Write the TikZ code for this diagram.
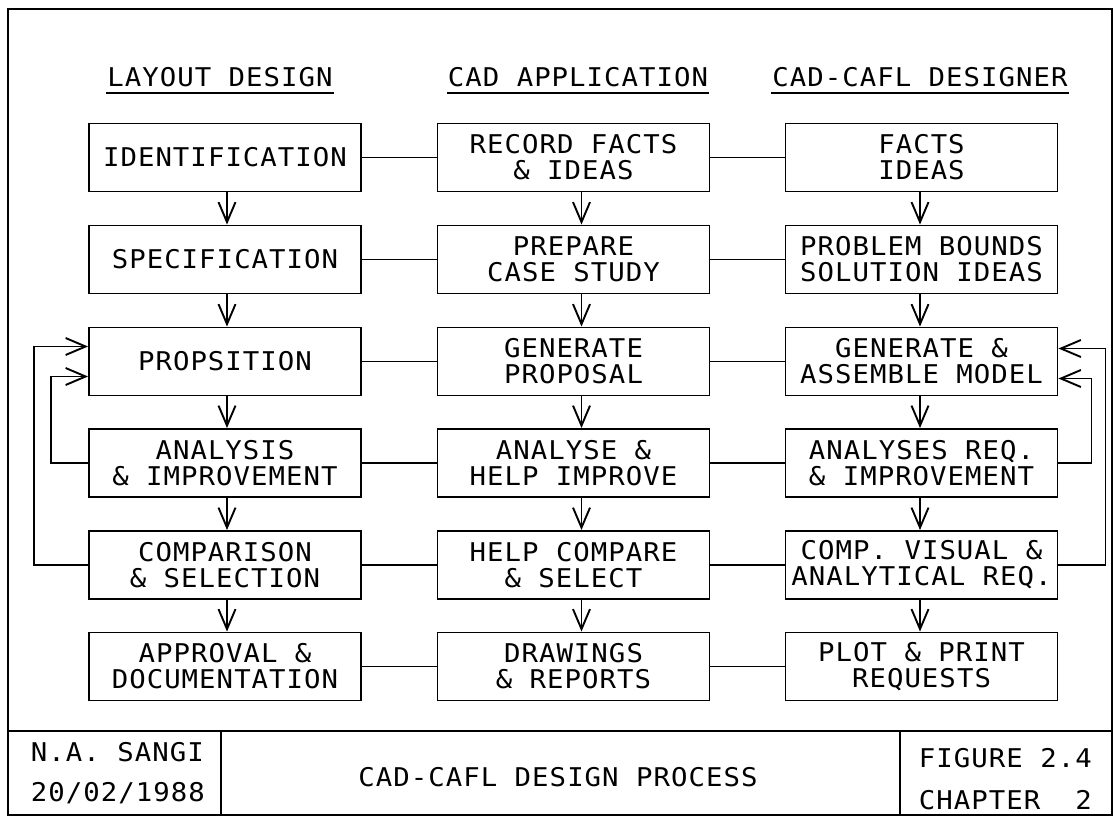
\documentclass[tikz,border=0pt]{standalone}
\usepackage{fontspec}
\usetikzlibrary{arrows.meta,calc}
\newfontfamily\cadfont[FakeStretch=1.06,LetterSpace=4]{DejaVu Sans Mono}
\newcommand\cadtext{\cadfont\fontsize{25.8pt}{26pt}\selectfont}
\begin{document}
\begin{tikzpicture}[x=1pt,y=-1pt,line width=1.9pt,
  box/.style={draw,minimum width=272pt,minimum height=68pt,inner sep=0pt,align=center,font=\cadtext},
  lbl/.style={inner sep=0pt,font=\cadtext},
  flow/.style={-{Straight Barb[length=20pt,width=17pt]}}]
\useasboundingbox (0,0) rectangle (1113,816);
\draw (8,9) rectangle (1112,815);
% headers
\node[lbl] (h1) at (220,77) {LAYOUT DESIGN};
\node[lbl] (h2) at (578,77) {CAD APPLICATION};
\node[lbl] (h3) at (920,77) {CAD-CAFL DESIGNER};
\foreach \h in {h1,h2,h3}
  \draw ($(\h.base west)+(0,7)$) -- ($(\h.base east)+(0,7)$);
% left column
\node[box] (l1) at (225,157.5) {IDENTIFICATION};
\node[box] (l2) at (225,259.5) {SPECIFICATION};
\node[box] (l3) at (225,361.5) {PROPSITION};
\node[box] (l4) at (225,463) {ANALYSIS\\\& IMPROVEMENT};
\node[box] (l5) at (225,565) {COMPARISON\\\& SELECTION};
\node[box] (l6) at (225,666.5) {APPROVAL \&\\DOCUMENTATION};
% middle column
\node[box] (m1) at (573.5,157.5) {RECORD FACTS\\\& IDEAS};
\node[box] (m2) at (573.5,259.5) {PREPARE\\CASE STUDY};
\node[box] (m3) at (573.5,361.5) {GENERATE\\PROPOSAL};
\node[box] (m4) at (573.5,463) {ANALYSE \&\\HELP IMPROVE};
\node[box] (m5) at (573.5,565) {HELP COMPARE\\\& SELECT};
\node[box] (m6) at (573.5,666.5) {DRAWINGS\\\& REPORTS};
% right column
\node[box] (r1) at (921.5,157.5) {FACTS\\IDEAS};
\node[box] (r2) at (921.5,259.5) {PROBLEM BOUNDS\\SOLUTION IDEAS};
\node[box] (r3) at (921.5,361.5) {GENERATE \&\\ASSEMBLE MODEL};
\node[box] (r4) at (921.5,463) {ANALYSES REQ.\\\& IMPROVEMENT};
\node[box] (r5) at (921.5,565) {COMP. VISUAL \&\\ANALYTICAL REQ.};
\node[box] (r6) at (921.5,666.5) {PLOT \& PRINT\\REQUESTS};
% horizontal links
\foreach \i in {1,...,6} {
  \draw (l\i) -- (m\i);
  \draw (m\i) -- (r\i);
}
% vertical flow arrows
\foreach \i/\j in {1/2,2/3,3/4,4/5,5/6} {
  \draw[flow] ([xshift=2pt]l\i.south) -- ([xshift=2pt]l\j.north);
  \draw[flow] ([xshift=8pt]m\i.south) -- ([xshift=8pt]m\j.north);
  \draw[flow] ([xshift=-1.5pt]r\i.south) -- ([xshift=-1.5pt]r\j.north);
}
% feedback loops left
\draw[flow] (l5.west) -- ++(-54,0) |- ([yshift=15pt]l3.west);
\draw[flow] (l4.west) -- ++(-37,0) |- ([yshift=-15pt]l3.west);
% feedback loops right
\draw[flow] (r5.east) -- ++(47,0) |- ([yshift=13pt]r3.east);
\draw[flow] (r4.east) -- ++(33,0) |- ([yshift=-17pt]r3.east);
% title block
\draw (8,731) -- (1112,731);
\draw (221,731) -- (221,815);
\draw (900,731) -- (900,815);
\node[lbl,anchor=west] (t1) at (30,752) {N.A. SANGI};
\node[lbl,anchor=west] (t2) at (30,793) {20/02/1988};
\node[lbl] (t3) at (558,777) {CAD-CAFL DESIGN PROCESS};
\node[lbl,anchor=west] (t4) at (918,758) {FIGURE 2.4};
\node[lbl,anchor=west] (t5) at (918,800) {CHAPTER\ \ 2};
\end{tikzpicture}
\end{document}
